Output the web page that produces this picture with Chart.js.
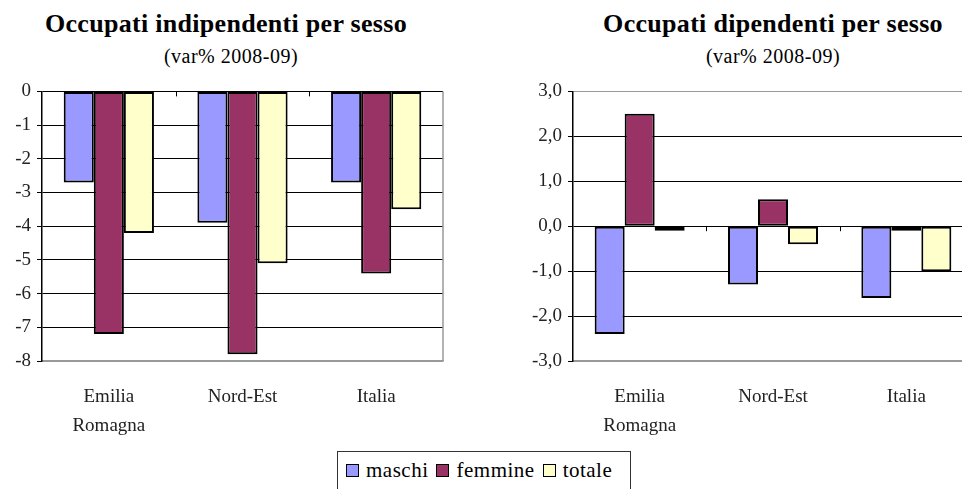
<!DOCTYPE html>
<html lang="it">
<head>
    <meta charset="UTF-8">
    <title>Occupati per sesso</title>
    <script src="https://cdn.jsdelivr.net/npm/chart.js@4.4.1/dist/chart.umd.min.js"></script>
    <style>
        body { margin: 0; width: 962px; height: 489px; overflow: hidden; background: #fff; position: relative; font-family: "Liberation Serif", "DejaVu Serif", serif; color: #000; }
        .title { position: absolute; top: 9px; text-align: center; font-weight: bold; font-size: 26px; letter-spacing: 0.3px; }
        .sub { position: absolute; top: 45px; text-align: center; font-size: 20px; letter-spacing: 0.5px; }
        .box { position: absolute; top: 74px; height: 377px; }
        .legend { position: absolute; left: 337px; top: 451px; width: 294px; height: 50px; border: 1px solid #333; box-sizing: border-box; font-size: 21px; padding: 6px 0 0 8px; white-space: nowrap; letter-spacing: 0.5px; }
        .legend span { display: inline-block; margin-right: 8px; }
        .legend i { display: inline-block; width: 11px; height: 11px; border: 1.5px solid #000; margin-right: 7px; vertical-align: 0px; }
    </style>
</head>
<body>
    <div class="title" style="left:0;width:452px">Occupati indipendenti per sesso</div>
    <div class="sub" style="left:0;width:462px">(var% 2008-09)</div>
    <div class="title" style="left:584px;width:378px">Occupati dipendenti per sesso</div>
    <div class="sub" style="left:584px;width:378px">(var% 2008-09)</div>

    <div class="box" style="left:0;width:460px"><canvas id="left"></canvas></div>
    <div class="box" style="left:490px;width:500px"><canvas id="right"></canvas></div>

    <div class="legend" id="legend"></div>

    <script>
      // categorie e serie
      const regions = [['Emilia', 'Romagna'], 'Nord-Est', 'Italia'];
      const seriesNames = ['maschi', 'femmine', 'totale'];
      const seriesColors = ['#9999FF', '#993366', '#FFFFCC'];

      // occupati indipendenti
      const indMaschi = [-2.7, -3.9, -2.7];
      const indFemmine = [-7.2, -7.8, -5.4];
      const indTotale = [-4.2, -5.1, -3.5];

      // occupati dipendenti
      const dipMaschi = [-2.4, -1.3, -1.6];
      const dipFemmine = [2.5, 0.6, -0.1];
      const dipTotale = [-0.1, -0.4, -1.0];

      const serif = '"Liberation Serif", "DejaVu Serif", serif';

      // frame grigio + tacche sulla linea dello zero
      const framePlugin = {
        id: 'frame',
        afterDatasetsDraw(chart) {
          const ctx = chart.ctx;
          const a = chart.chartArea;
          const y0 = chart.scales.y.getPixelForValue(0);
          ctx.save();
          ctx.strokeStyle = '#999';
          ctx.lineWidth = 1.5;
          ctx.beginPath();
          ctx.moveTo(a.right, a.top);
          ctx.lineTo(a.right, a.bottom);
          ctx.stroke();
          ctx.strokeStyle = '#000';
          ctx.lineWidth = 1;
          const step = (a.right - a.left) / regions.length;
          for (let i = 1; i < regions.length; i++) {
            const px = Math.round(a.left + i * step) + 0.5;
            ctx.beginPath();
            ctx.moveTo(px, y0);
            ctx.lineTo(px, y0 + 5);
            ctx.stroke();
          }
          ctx.restore();
        }
      };

      function makeChart(id, data, min, max, yWidth, fmt, topGray) {
        const datasets = seriesNames.map((name, i) => ({
          label: name,
          data: data[i],
          backgroundColor: seriesColors[i],
          borderColor: '#000',
          borderWidth: 2,
          borderSkipped: false,
          categoryPercentage: 0.675,
          barPercentage: 1
        }));
        return new Chart(document.getElementById(id), {
          type: 'bar',
          data: { labels: regions, datasets: datasets },
          options: {
            responsive: true,
            maintainAspectRatio: false,
            animation: false,
            layout: { padding: { top: 4, right: 17, left: 0, bottom: 0 } },
            plugins: { legend: { display: false }, tooltip: { enabled: false } },
            scales: {
              x: {
                grid: { display: false, drawTicks: false },
                border: { color: '#999', width: 1.5 },
                ticks: {
                  padding: 21,
                  color: '#222',
                  font: { family: serif, size: 19, lineHeight: 1.55 }
                },
                afterFit(scale) { scale.height = 90; }
              },
              y: {
                min: min,
                max: max,
                border: { color: '#000', width: 1.5 },
                grid: {
                  color(c) {
                    if (c.tick.value === min) return '#999';
                    if (topGray && c.tick.value === max) return '#999';
                    return '#000';
                  },
                  tickColor: '#000',
                  tickLength: 5,
                  lineWidth: 1
                },
                ticks: {
                  stepSize: 1,
                  padding: 6,
                  color: '#222',
                  font: { family: serif, size: 19 },
                  callback: fmt
                },
                afterFit(scale) { scale.width = yWidth; }
              }
            }
          },
          plugins: [framePlugin]
        });
      }

      makeChart('left', [indMaschi, indFemmine, indTotale], -8, 0, 42, v => String(v), false);
      makeChart('right', [dipMaschi, dipFemmine, dipTotale], -3, 3, 83, v => v.toFixed(1).replace('.', ','), true);

      // legenda comune
      const legend = document.getElementById('legend');
      seriesNames.forEach((name, i) => {
        const s = document.createElement('span');
        s.innerHTML = '<i style="background:' + seriesColors[i] + '"></i>' + name;
        legend.appendChild(s);
      });
    </script>
</body>
</html>
